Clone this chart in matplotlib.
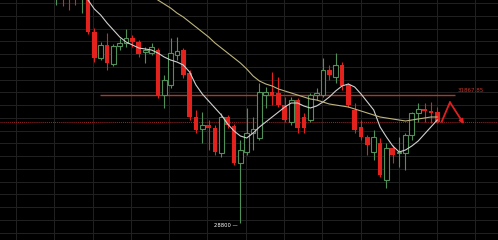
import numpy as np
import matplotlib
matplotlib.use("Agg")
import matplotlib.pyplot as plt

# OHLC per candle (index 0..60)
opens = [34246,34438,34342,34390,34198,34294,33382,32758,33070,32614,
         33046,33118,33238,33142,32902,32878,32950,31870,32110,32830,
         32950,32398,31342,31054,31150,31078,30478,31342,31126,30238,
         30502,30958,30838,31870,31942,31918,31630,31222,31750,31342,
         31270,31870,31870,32470,32302,32590,32110,31510,31102,30862,
         30502,30718,29830,30598,30478,30478,30910,31438,31534,31486,31462]
highs = [34750,34630,34510,34582,34510,34390,33478,33142,33358,33094,
         33238,33454,33310,33190,33022,33118,32998,32350,33238,33262,
         32998,32470,31510,31462,31270,31150,31438,31390,31174,30790,
         31558,31342,32158,32062,32422,32302,31822,31822,31798,31438,
         31918,32038,32758,32590,32878,32662,32158,31678,31270,30910,
         31030,30838,30718,30670,30862,30958,31462,31678,31678,31702,31582]
lows = [34030,34006,33910,34030,33838,33334,32662,32710,32470,32566,
        32950,33022,33022,32782,32638,32830,31798,31558,32038,32710,
        32278,31270,30958,30718,30550,30430,30382,31078,30190,28800,
        30430,30550,30790,31558,31630,31582,31222,31150,30958,30958,
        31222,31750,31822,32230,32158,31990,31582,30958,30790,30430,
        30310,29902,29638,30238,30142,30070,30790,31222,31222,31198,31198]
closes = [34510,34222,34174,34198,34390,33382,32758,33070,32638,33046,
          33118,33238,33142,32854,32950,33022,31870,32230,32878,32926,
          32350,31342,31030,31150,31078,30502,31342,31150,30238,30550,
          30958,31054,31942,31942,31870,31630,31270,31750,31078,31078,
          31870,31918,32470,32350,32590,32086,31630,31030,30862,30670,
          30862,29950,30598,30430,30502,30910,31438,31534,31486,31438,31222]

# moving averages
ma_fast_start = 5
ma_fast = [34150,33934,33790,33598,33430,33262,33142,33070,32998,32974,
           32950,32878,32782,32710,32662,32590,32422,32110,31894,31726,
           31558,31390,31174,31006,30886,30838,30958,31102,31222,31342,
           31462,31582,31678,31678,31606,31558,31606,31702,31822,31966,
           32086,32134,32062,31894,31702,31510,31102,30862,30646,30502,
           30550,30646,30766,30934,31102,31270]
ma_slow_start = 16
ma_slow = [34150,34054,33958,33838,33742,33622,33502,33382,33262,33118,
           32998,32878,32758,32638,32494,32326,32206,32134,32086,32014,
           31966,31918,31870,31822,31774,31750,31702,31654,31630,31606,
           31582,31534,31486,31438,31390,31342,31318,31294,31270,31246,
           31270,31294,31318,31342,31342]

level_price = 31867.85
level_label = "31867.85"
dotted_price = 31222
low_price = 28800
low_index = 29
arrow_x = [60.7, 62.0, 64.2]
arrow_y = [31229, 31695, 31174]

opens = np.array(opens); closes = np.array(closes)
highs = np.array(highs); lows = np.array(lows)
x = np.arange(opens.size)
up = closes >= opens

fig = plt.figure(figsize=(4.98, 2.40), dpi=100, facecolor="black")
ax = fig.add_axes([0, 0, 1, 1], facecolor="black")
ax.set_xlim(-8.86, 69.57)
ax.set_ylim(28390, 34150)

# grid
ax.set_xticks(np.arange(-6.34, 70, 6.03))
ax.set_yticks(np.arange(34078, 28300, -306))
ax.grid(True, color="#222222", lw=0.7)
ax.set_axisbelow(True)
ax.tick_params(length=0, labelbottom=False, labelleft=False)
for s in ax.spines.values():
    s.set_visible(False)

red = "#e3221e"
green = "#4f9158"
w = 0.74

# wicks
ax.vlines(x[~up], lows[~up], highs[~up], color=red, lw=0.8, zorder=2)
ax.vlines(x[up], lows[up], highs[up], color=green, lw=0.8, zorder=2)
# bodies
ax.bar(x[~up], opens[~up] - closes[~up], bottom=closes[~up], width=w,
       color=red, lw=0, zorder=3)
hb = np.maximum(closes[up] - opens[up], 8)
ax.bar(x[up], hb, bottom=opens[up], width=w,
       facecolor="black", edgecolor=green, lw=0.8, zorder=3)

# moving averages
ax.plot(np.arange(len(ma_fast)) + ma_fast_start, ma_fast, color="#d0d0d0", lw=0.8, zorder=4)
ax.plot(np.arange(len(ma_slow)) + ma_slow_start, ma_slow, color="#bdb47e", lw=0.8, zorder=4)

# levels
ax.hlines(level_price, 6.9, 62.8, color="#a83a2a", lw=1.0, zorder=1.5)
ax.text(63.2, level_price + 60, level_label, color="#c8352a", fontsize=4,
        va="bottom", ha="left")
ax.axhline(dotted_price, color="#a02424", lw=0.7, ls=(0, (1, 1)), zorder=1.5)

# low marker
ax.text(low_index - 0.35, low_price - 60, str(low_price) + " \u2014", color="white",
        fontsize=3.8, ha="right", va="center")

# arrow
ax.plot(arrow_x[:2], arrow_y[:2], color="#e02020", lw=1.3, zorder=5)
ax.annotate("", xy=(arrow_x[2], arrow_y[2]), xytext=(arrow_x[1], arrow_y[1]),
            arrowprops=dict(arrowstyle="-|>", color="#e02020", lw=1.3,
                            mutation_scale=6, shrinkA=0, shrinkB=0), zorder=5)

fig.savefig("out.png", dpi=100, facecolor="black")
